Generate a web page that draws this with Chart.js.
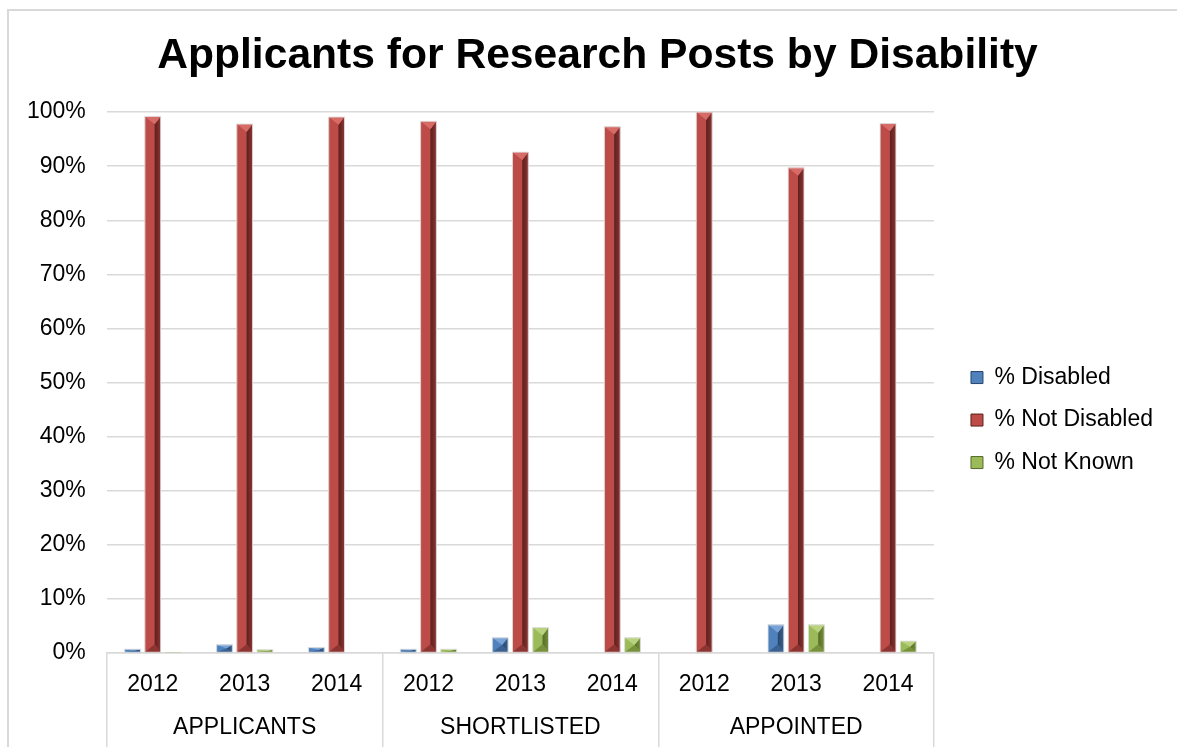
<!DOCTYPE html>
<html>
<head>
<meta charset="utf-8">
<title>Applicants for Research Posts by Disability</title>
<script src="https://cdn.jsdelivr.net/npm/chart.js@4.4.1/dist/chart.umd.min.js"></script>
<style>
    html, body { margin: 0; padding: 0; background: #fff; }
    #frame { position: absolute; left: 7px; top: 9px; right: -4px; bottom: -4px; border-left: 2px solid #d9d9d9; border-top: 2px solid #d9d9d9; }
    #wrap { position: absolute; left: 0; top: 0; width: 1177px; height: 747px; }
</style>
</head>
<body>
<div id="frame"></div>
<div id="wrap"><canvas id="chart"></canvas></div>
<script>
    // --- DATA ---
    const years = ['2012', '2013', '2014', '2012', '2013', '2014', '2012', '2013', '2014'];
    const stages = ['APPLICANTS', 'SHORTLISTED', 'APPOINTED'];
    const pctDisabled = [0.7, 1.5, 1.0, 0.7, 2.8, 0, 0, 5.2, 0];
    const pctNotDisabled = [99.2, 97.8, 99.1, 98.3, 92.6, 97.3, 100, 89.7, 97.9];
    const pctNotKnown = [0.1, 0.6, 0, 0.7, 4.7, 2.8, 0, 5.2, 2.2];
    const yTicks = [0, 10, 20, 30, 40, 50, 60, 70, 80, 90, 100];

    // category labels: year, stage name under the middle year, then two blank
    // rows so the axis box is deep enough for the long separator ticks
    const xLabels = years.map((y, i) => [y, i % 3 === 1 ? stages[Math.floor(i / 3)] : '', '', '']);

    // Office-style palette: face, top bevel, right shade, bottom bevel
    const palette = {
        blue:  { face: '#4f81bd', top: '#79a2d6', side: '#27466d', bottom: '#3a6190' },
        red:   { face: '#bd4b48', top: '#d66b67', side: '#5a201e', bottom: '#8c3432' },
        green: { face: '#9bbb59', top: '#b8d27f', side: '#556b28', bottom: '#77913c' }
    };
    const gridGrey = '#d9d9d9';
    const FONT = "'Liberation Sans', Arial, sans-serif";

    Chart.defaults.font.family = FONT;
    Chart.defaults.color = '#000';

    // Pyramid bevel drawn over every bar
    const bevelBars = {
        id: 'bevelBars',
        afterDatasetsDraw(chart) {
            const ctx = chart.ctx;
            chart.data.datasets.forEach((ds, i) => {
                const meta = chart.getDatasetMeta(i);
                const c = ds.shade;
                meta.data.forEach(el => {
                    const { x, y, base, width } = el.getProps(['x', 'y', 'base', 'width'], true);
                    const h = base - y;
                    if (h <= 0.2) return;
                    const l = x - width / 2, r = x + width / 2;
                    const ridge = l + width * 0.62;
                    const d = Math.min(width * 0.5, h / 2);
                    const poly = (pts, fill) => {
                        ctx.beginPath();
                        ctx.moveTo(pts[0][0], pts[0][1]);
                        for (let k = 1; k < pts.length; k++) ctx.lineTo(pts[k][0], pts[k][1]);
                        ctx.closePath();
                        ctx.fillStyle = fill;
                        ctx.fill();
                    };
                    ctx.save();
                    poly([[l, y], [ridge, y + d], [ridge, base - d], [l, base]], c.face);
                    const gs = ctx.createLinearGradient(ridge, 0, r, 0);
                    gs.addColorStop(0, c.side);
                    gs.addColorStop(1, c.bottom);
                    poly([[r, y], [ridge, y + d], [ridge, base - d], [r, base]], gs);
                    poly([[l, y], [r, y], [ridge, y + d]], c.top);
                    poly([[l, base], [r, base], [ridge, base - d]], c.bottom);
                    ctx.strokeStyle = 'rgba(225,225,225,0.9)';
                    ctx.lineWidth = 1;
                    ctx.strokeRect(l, y, width, h);
                    ctx.restore();
                });
            });
        }
    };

    // Title is centred over the framed area rather than the whole canvas
    const titleShift = {
        id: 'titleShift',
        afterLayout(chart) {
            chart.titleBlock.left += 13;
            chart.titleBlock.right += 13;
        }
    };

    const makeSet = (label, data, c) => ({
        label: label,
        data: data,
        backgroundColor: c.face,
        borderColor: c.side,
        borderWidth: 0,
        shade: c,
        categoryPercentage: 0.66,
        barPercentage: 0.78
    });

    new Chart(document.getElementById('chart'), {
        type: 'bar',
        data: {
            labels: xLabels,
            datasets: [
                makeSet('% Disabled', pctDisabled, palette.blue),
                makeSet('% Not Disabled', pctNotDisabled, palette.red),
                makeSet('% Not Known', pctNotKnown, palette.green)
            ]
        },
        options: {
            responsive: true,
            maintainAspectRatio: false,
            animation: false,
            layout: { padding: { left: 6, right: 14, top: 0, bottom: 0.5 } },
            plugins: {
                title: {
                    display: true,
                    text: 'Applicants for Research Posts by Disability',
                    font: { size: 42.6, weight: 'bold', lineHeight: 1.2 },
                    padding: { top: 31, bottom: 30 }
                },
                legend: {
                    position: 'right',
                    fullSize: false,
                    maxWidth: 260,
                    // empty heading only used to drop the key lower down the side
                    title: { display: true, text: '', font: { size: 12, lineHeight: 1 }, padding: { top: 63, bottom: 0 } },
                    labels: {
                        boxWidth: 12,
                        boxHeight: 12,
                        padding: 19.5,
                        font: { size: 23 },
                        generateLabels(chart) {
                            return chart.data.datasets.map((ds, i) => ({
                                text: ds.label,
                                fillStyle: ds.shade.face,
                                strokeStyle: ds.shade.side,
                                lineWidth: 1,
                                datasetIndex: i
                            }));
                        }
                    }
                },
                tooltip: { enabled: false }
            },
            scales: {
                x: {
                    offset: true,
                    grid: {
                        offset: true,
                        drawOnChartArea: false,
                        tickLength: 98,
                        lineWidth: 1.5,
                        color: (c) => (c.index === undefined || c.index % 3 === 0) ? gridGrey : 'rgba(0,0,0,0)'
                    },
                    border: { display: true, color: gridGrey, width: 1.5 },
                    ticks: {
                        padding: -87.25,
                        font: { size: 23, lineHeight: 1.848 },
                        maxRotation: 0,
                        autoSkip: false
                    }
                },
                y: {
                    min: 0,
                    max: 100,
                    afterBuildTicks(scale) { scale.ticks = yTicks.map(v => ({ value: v })); },
                    grid: { color: gridGrey, lineWidth: 1.5, drawTicks: false },
                    border: { display: false },
                    ticks: { padding: 21, font: { size: 23 }, callback: (v) => v + '%' }
                },
                yGap: {
                    type: 'linear',
                    position: 'right',
                    display: true,
                    grid: { display: false, drawTicks: false },
                    border: { display: false },
                    ticks: { display: false },
                    afterFit(scale) { scale.width = 17.5; }
                }
            }
        },
        plugins: [bevelBars, titleShift]
    });
</script>
</body>
</html>
